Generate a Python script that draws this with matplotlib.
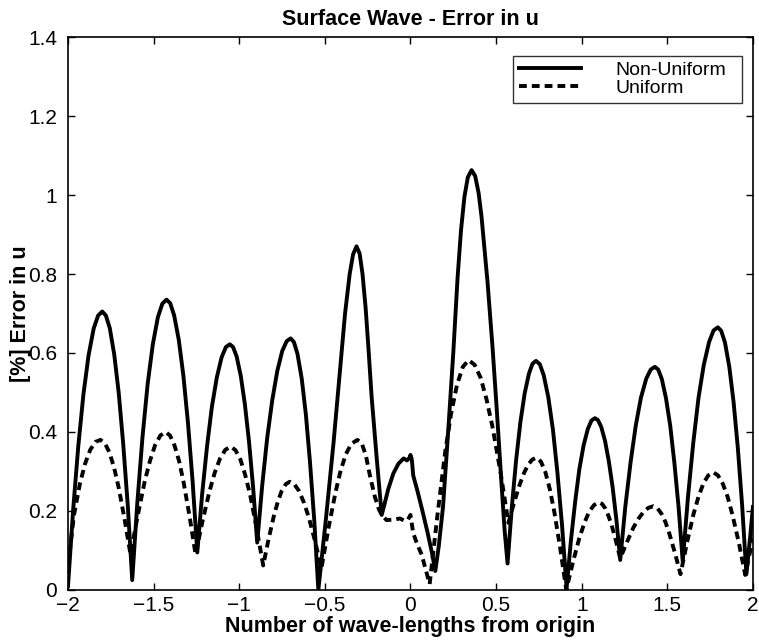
import matplotlib
matplotlib.use("Agg")
import matplotlib.pyplot as plt

plt.rcParams['font.family'] = ['Liberation Sans', 'DejaVu Sans']

# Error in u along the tank, non-uniform grid
nonuni_x = [-2.000, -1.970, -1.940, -1.910, -1.880, -1.850, -1.824, -1.800, -1.779, -1.756,
            -1.730, -1.704, -1.678, -1.651, -1.625, -1.595, -1.565, -1.535, -1.505, -1.475,
            -1.449, -1.425, -1.403, -1.380, -1.353, -1.326, -1.299, -1.272, -1.245, -1.217,
            -1.188, -1.160, -1.131, -1.103, -1.078, -1.055, -1.036, -1.015, -0.991, -0.967,
            -0.943, -0.919, -0.895, -0.866, -0.837, -0.807, -0.778, -0.749, -0.723, -0.700,
            -0.681, -0.660, -0.635, -0.611, -0.587, -0.562, -0.538, -0.493, -0.449, -0.415,
            -0.382, -0.355, -0.335, -0.315, -0.297, -0.280, -0.262, -0.245, -0.227, -0.197,
            -0.168, -0.150, -0.130, -0.100, -0.070, -0.040, -0.020, -0.005, 0.000, 0.008,
            0.016, 0.040, 0.070, 0.100, 0.125, 0.145, 0.165, 0.190, 0.220, 0.250,
            0.275, 0.295, 0.315, 0.335, 0.357, 0.378, 0.398, 0.415, 0.450, 0.480,
            0.505, 0.530, 0.550, 0.567, 0.592, 0.617, 0.642, 0.667, 0.692, 0.713,
            0.733, 0.755, 0.778, 0.805, 0.832, 0.858, 0.885, 0.912, 0.937, 0.962,
            0.986, 1.011, 1.036, 1.057, 1.077, 1.095, 1.114, 1.136, 1.158, 1.181,
            1.203, 1.225, 1.255, 1.286, 1.316, 1.346, 1.377, 1.403, 1.427, 1.447,
            1.468, 1.492, 1.517, 1.541, 1.566, 1.590, 1.621, 1.652, 1.682, 1.713,
            1.744, 1.770, 1.795, 1.815, 1.837, 1.862, 1.887, 1.912, 1.937, 1.962,
            1.985, 2.000]
nonuni_err = [0.010, 0.203, 0.364, 0.495, 0.594, 0.662, 0.695, 0.705, 0.695, 0.663,
              0.596, 0.500, 0.372, 0.214, 0.025, 0.222, 0.387, 0.521, 0.621, 0.691,
              0.725, 0.735, 0.726, 0.695, 0.633, 0.542, 0.421, 0.273, 0.095, 0.241,
              0.364, 0.463, 0.538, 0.589, 0.615, 0.622, 0.615, 0.591, 0.542, 0.470,
              0.376, 0.260, 0.120, 0.264, 0.384, 0.481, 0.554, 0.605, 0.630, 0.637,
              0.628, 0.598, 0.535, 0.445, 0.325, 0.177, 0.000, 0.183, 0.374, 0.539,
              0.700, 0.800, 0.850, 0.870, 0.852, 0.800, 0.715, 0.610, 0.490, 0.333,
              0.190, 0.220, 0.255, 0.295, 0.320, 0.333, 0.328, 0.335, 0.342, 0.330,
              0.290, 0.252, 0.200, 0.145, 0.095, 0.048, 0.110, 0.210, 0.400, 0.600,
              0.790, 0.910, 0.995, 1.045, 1.063, 1.048, 1.005, 0.945, 0.780, 0.610,
              0.450, 0.280, 0.150, 0.067, 0.210, 0.329, 0.425, 0.498, 0.548, 0.573,
              0.580, 0.572, 0.544, 0.488, 0.406, 0.298, 0.165, 0.005, 0.125, 0.224,
              0.305, 0.366, 0.408, 0.429, 0.435, 0.430, 0.413, 0.378, 0.327, 0.259,
              0.176, 0.076, 0.212, 0.325, 0.417, 0.487, 0.535, 0.558, 0.565, 0.558,
              0.534, 0.486, 0.416, 0.323, 0.209, 0.072, 0.237, 0.374, 0.486, 0.570,
              0.628, 0.657, 0.665, 0.656, 0.626, 0.565, 0.476, 0.359, 0.214, 0.040,
              0.140, 0.210]

# Error in u, uniform grid
uni_x = [-2.000, -1.965, -1.930, -1.900, -1.870, -1.840, -1.810, -1.784, -1.758, -1.731,
         -1.705, -1.670, -1.635, -1.594, -1.553, -1.522, -1.492, -1.461, -1.430, -1.404,
         -1.378, -1.351, -1.325, -1.290, -1.255, -1.214, -1.173, -1.143, -1.112, -1.081,
         -1.050, -1.022, -0.993, -0.965, -0.936, -0.898, -0.860, -0.829, -0.798, -0.775,
         -0.752, -0.728, -0.705, -0.677, -0.650, -0.622, -0.594, -0.557, -0.520, -0.479,
         -0.438, -0.408, -0.377, -0.346, -0.310, -0.285, -0.260, -0.237, -0.208, -0.185,
         -0.168, -0.140, -0.100, -0.061, -0.035, -0.015, 0.000, 0.016, 0.040, 0.065,
         0.090, 0.112, 0.158, 0.203, 0.237, 0.272, 0.306, 0.340, 0.375, 0.410,
         0.444, 0.479, 0.526, 0.572, 0.605, 0.638, 0.662, 0.687, 0.711, 0.736,
         0.762, 0.788, 0.814, 0.840, 0.875, 0.910, 0.948, 0.986, 1.015, 1.043,
         1.072, 1.100, 1.119, 1.138, 1.156, 1.175, 1.200, 1.225, 1.264, 1.302,
         1.331, 1.360, 1.389, 1.418, 1.442, 1.466, 1.490, 1.513, 1.545, 1.577,
         1.615, 1.653, 1.682, 1.711, 1.739, 1.768, 1.796, 1.824, 1.852, 1.880,
         1.918, 1.955, 1.980, 2.000]
uni_err = [0.060, 0.190, 0.270, 0.320, 0.355, 0.375, 0.380, 0.371, 0.348, 0.310,
           0.261, 0.180, 0.090, 0.186, 0.273, 0.326, 0.366, 0.391, 0.400, 0.391,
           0.366, 0.326, 0.273, 0.186, 0.090, 0.175, 0.251, 0.297, 0.333, 0.355,
           0.363, 0.354, 0.330, 0.291, 0.240, 0.155, 0.062, 0.128, 0.187, 0.223,
           0.251, 0.268, 0.274, 0.267, 0.250, 0.221, 0.184, 0.123, 0.055, 0.156,
           0.247, 0.302, 0.344, 0.370, 0.380, 0.372, 0.340, 0.290, 0.236, 0.205,
           0.190, 0.177, 0.178, 0.181, 0.175, 0.178, 0.190, 0.144, 0.115, 0.090,
           0.050, 0.015, 0.191, 0.350, 0.446, 0.520, 0.565, 0.582, 0.570, 0.537,
           0.483, 0.413, 0.298, 0.170, 0.221, 0.267, 0.295, 0.317, 0.330, 0.335,
           0.325, 0.298, 0.255, 0.198, 0.104, 0.000, 0.069, 0.131, 0.169, 0.198,
           0.215, 0.222, 0.218, 0.206, 0.188, 0.164, 0.124, 0.080, 0.121, 0.158,
           0.180, 0.197, 0.208, 0.212, 0.207, 0.193, 0.171, 0.141, 0.093, 0.040,
           0.120, 0.192, 0.236, 0.270, 0.290, 0.298, 0.290, 0.269, 0.236, 0.191,
           0.119, 0.038, 0.090, 0.130]

x_ticks = [-2, -1.5, -1, -0.5, 0, 0.5, 1, 1.5, 2]
x_tick_labels = ['\u22122', '\u22121.5', '\u22121', '\u22120.5', '0', '0.5', '1', '1.5', '2']
y_ticks = [0, 0.2, 0.4, 0.6, 0.8, 1.0, 1.2, 1.4]
y_tick_labels = ['0', '0.2', '0.4', '0.6', '0.8', '1', '1.2', '1.4']

fig = plt.figure(figsize=(7.59, 6.44), dpi=100)
ax = fig.add_axes([0.0896, 0.0839, 0.9024, 0.8586])

ax.plot(nonuni_x, nonuni_err, '-', color='black', linewidth=2.8,
        solid_joinstyle='round', label='Non-Uniform')
ln, = ax.plot(uni_x, uni_err, '--', color='black', linewidth=2.8,
              dash_capstyle='butt', label='Uniform')
ln.set_dashes([2.0, 1.3])

ax.set_xlim(-2, 2)
ax.set_ylim(0, 1.4)
ax.set_xticks(x_ticks)
ax.set_xticklabels(x_tick_labels)
ax.set_yticks(y_ticks)
ax.set_yticklabels(y_tick_labels)
ax.tick_params(direction='in', length=5, width=1, top=True, right=True,
               labelsize=15)
ax.tick_params(axis='x', pad=4)
ax.tick_params(axis='y', pad=8)
for sp in ax.spines.values():
    sp.set_linewidth(1.2)

ax.set_title('Surface Wave - Error in u', fontsize=15.5, fontweight='bold', pad=9)
ax.set_xlabel('Number of wave-lengths from origin', fontsize=15.5,
              fontweight='bold', labelpad=1)
ax.set_ylabel('[%] Error in u', fontsize=15.5, fontweight='bold', labelpad=-2)

# legend box stretched to a fixed width, entries left aligned
leg = ax.legend(loc='upper left', bbox_to_anchor=(0.6496, 0.866, 0.334, 0.1),
                mode='expand', borderaxespad=0,
                fontsize=14, handlelength=3.2, handletextpad=1.75,
                labelspacing=0.0, borderpad=0.3, fancybox=False)
leg.get_frame().set_edgecolor('black')
leg.get_frame().set_linewidth(1.0)

fig.savefig('out.png', dpi=100)
